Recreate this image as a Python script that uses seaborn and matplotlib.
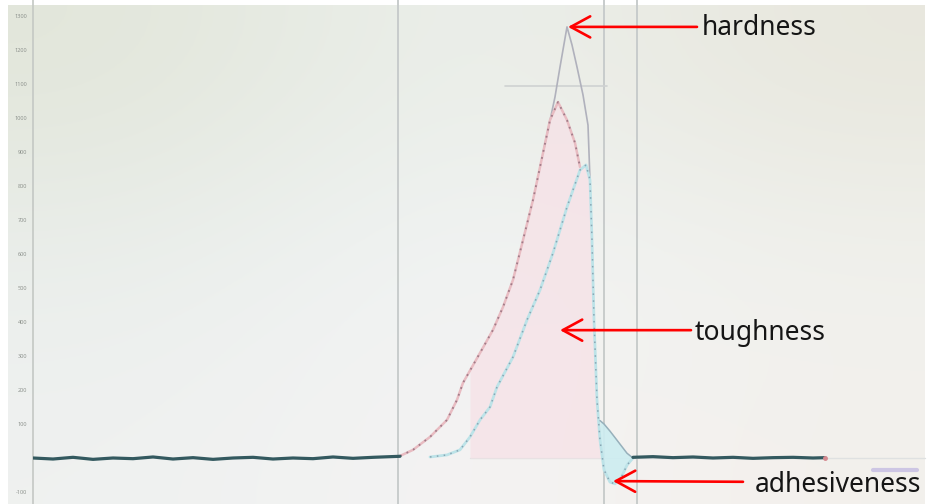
import numpy as np
import matplotlib
matplotlib.use("Agg")
import matplotlib.pyplot as plt
import matplotlib.colors as mcolors
import seaborn as sns

# time in s (10 px per s), force in g (34 px per 100 g)
base_left_x = [0, 2, 4, 6, 8, 10, 12, 14, 16, 18, 20, 22, 24, 26, 28, 30, 32, 34, 36.7]
base_left_y = [0, -3, 2, -4, 0, -2, 3, -3, 1, -4, 0, 2, -3, 0, -2, 3, -1, 2, 5]
base_right_x = [60.0, 62, 64, 66, 68, 70, 72, 74, 76, 78, 79.2]
base_right_y = [2, 4, 1, 3, 0, 2, -1, 1, 2, 0, 1]

red_x = [36.7, 38.0, 39.7, 41.4, 42.4, 43.0, 44.7, 46.0, 47.0, 48.0, 49.0, 50.0,
         51.0, 51.7, 52.5, 53.4, 54.2, 54.7]
red_y = [6, 24, 62, 112, 171, 221, 309, 377, 444, 524, 641, 759,
         897, 994, 1047, 994, 927, 856]

cyan_x = [39.7, 41.4, 42.7, 43.7, 44.7, 45.7, 46.4, 48.0, 49.4, 50.7, 52.0, 53.4,
          54.7, 55.3, 55.7, 55.9, 56.1, 56.4, 56.7, 57.1, 57.7, 58.2, 58.8, 59.4, 60.0]
cyan_y = [3, 9, 24, 62, 112, 150, 209, 297, 406, 494, 603, 738,
          847, 862, 818, 641, 406, 171, 53, -35, -71, -76, -59, -21, 0]

peak_x = [51.0, 51.5, 52.2, 52.7, 53.4, 53.9, 54.4, 55.0, 55.5, 55.7]
peak_y = [897, 965, 1062, 1150, 1268, 1215, 1150, 1068, 979, 818]

tough_x = [43.7, 44.7, 46.0, 47.0, 48.0, 49.0, 50.0, 51.0, 51.7, 52.5, 53.4, 54.2,
           54.7, 55.3, 55.7, 55.9, 56.1, 56.4, 56.7]
tough_top = [257, 309, 377, 444, 524, 641, 759, 897, 994, 1047, 994, 927,
             856, 862, 818, 641, 406, 171, 53]

dip_x = [56.7, 57.1, 57.7, 58.2, 58.8, 59.4, 60.0]
dip_low = [53, -35, -71, -76, -59, -21, 0]
dip_high = [110, 100, 79, 60, 37, 14, 0]

vline_x = [36.5, 57.1, 60.4]
ytick_vals = [-100, 100, 200, 300, 400, 500, 600, 700, 800, 900, 1000, 1100, 1200, 1300]

labels = ["hardness", "toughness", "adhesiveness"]
arrow_tip = [(53.5, 1268), (52.7, 376), (58.0, -68)]
arrow_tail = [(66.4, 1268), (65.8, 376), (71.0, -70)]
label_pos = [(66.9, 1244), (66.2, 347), (72.2, -99)]

sns.set_theme(style="white")
plt.rcParams["font.family"] = ["Noto Sans", "DejaVu Sans"]

fig = plt.figure(figsize=(9.31, 5.04), dpi=100)
fig.patch.set_facecolor("white")

# photo background (screen shot of the analyser)
bg = fig.add_axes([8 / 931, 0, 917 / 931, 499 / 504])
grid = [["#e2e6da", "#edf1ee", "#e8e7dd"],
        ["#eaeeeb", "#f2f5f6", "#f0f1ed"],
        ["#eff1f0", "#f5f4f4", "#f3f0ec"]]
img = np.array([[mcolors.to_rgb(c) for c in row] for row in grid])
bg.imshow(img, aspect="auto", interpolation="bicubic", extent=(0, 1, 0, 1))
bg.set_axis_off()

ax = fig.add_axes([33 / 931, 0, 898 / 931, 1])
ax.set_facecolor("none")
ax.set_xlim(0, 89.8)
ax.set_ylim(-135.3, 1347.1)

for xv in vline_x:
    ax.axvline(xv, color="#c8cccc", lw=1.4, zorder=1)
ax.plot([43.7, 89.2], [0, 0], color="#dfe1e1", lw=1, zorder=1)
ax.plot([47.2, 57.4], [1094, 1094], color="#cfd2d2", lw=1.2, zorder=1)
ax.plot([84.0, 88.4], [-35, -35], color="#cdc6e4", lw=3, solid_capstyle="round", zorder=1)

ax.fill_between(tough_x, 0, tough_top, color="#f6e2e7", alpha=0.8, lw=0, zorder=2)
ax.fill_between(dip_x, dip_low, dip_high, color="#cdedf1", alpha=0.9, lw=0, zorder=2)

sns.lineplot(x=peak_x, y=peak_y, ax=ax, sort=False, estimator=None,
             color="#b0b1bc", lw=1.2, zorder=3)
sns.lineplot(x=red_x, y=red_y, ax=ax, sort=False, estimator=None,
             color="#e8bcc2", lw=1.8, zorder=4)
sns.lineplot(x=red_x, y=red_y, ax=ax, sort=False, estimator=None,
             color="#94707e", lw=1.3, ls=(0, (1, 3)), alpha=0.85, zorder=5)
sns.lineplot(x=cyan_x, y=cyan_y, ax=ax, sort=False, estimator=None,
             color="#bde3e8", lw=2.0, zorder=4)
sns.lineplot(x=cyan_x, y=cyan_y, ax=ax, sort=False, estimator=None,
             color="#7f9aaa", lw=1.1, ls=(0, (1, 3.5)), alpha=0.85, zorder=5)
sns.lineplot(x=dip_x, y=dip_high, ax=ax, sort=False, estimator=None,
             color="#97b0bb", lw=1.1, zorder=5)
sns.lineplot(x=base_left_x, y=base_left_y, ax=ax, sort=False, estimator=None,
             color="#33595f", lw=2.3, zorder=6)
sns.lineplot(x=base_right_x, y=base_right_y, ax=ax, sort=False, estimator=None,
             color="#33595f", lw=2.3, zorder=6)
ax.plot(base_right_x[-1], base_right_y[-1], "o", ms=2.5, color="#d58a90", zorder=7)

for name, tip, tail, pos in zip(labels, arrow_tip, arrow_tail, label_pos):
    ax.annotate("", xy=tip, xytext=tail,
                arrowprops=dict(arrowstyle="->,head_length=0.7,head_width=0.38",
                                color="#ff0000", lw=1.9, mutation_scale=20,
                                shrinkA=0, shrinkB=0), zorder=8)
    ax.text(pos[0], pos[1], name, fontsize=19, color="#151515",
            ha="left", va="baseline", zorder=8)

ax.set_yticks(ytick_vals)
ax.set_yticklabels([str(v) for v in ytick_vals])
ax.set_xticks([])
ax.tick_params(axis="y", length=0, pad=4, labelsize=4, labelcolor="#8e938e")
for side in ["top", "right", "bottom"]:
    ax.spines[side].set_visible(False)
ax.spines["left"].set_color("#c4c8c4")
ax.spines["left"].set_linewidth(1.2)
ax.set_xlabel("")
ax.set_ylabel("")

fig.savefig("out.png", dpi=100)
